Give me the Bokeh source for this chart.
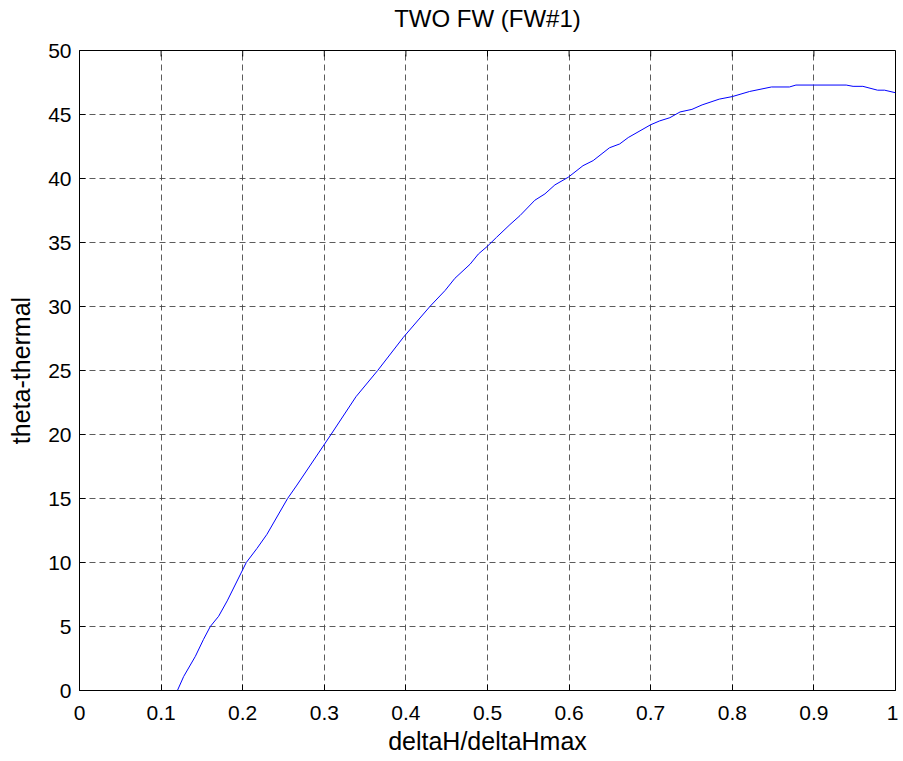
from bokeh.plotting import figure
from bokeh.models import Range1d, FixedTicker, LinearAxis
from bokeh.embed import file_html
from bokeh.resources import INLINE

x_vals = [0.12, 0.1277, 0.142, 0.152, 0.1603, 0.1705, 0.181, 0.2044, 0.2175, 0.2297,
          0.255, 0.2665, 0.3082, 0.3388, 0.3654, 0.397, 0.4294, 0.448, 0.46, 0.4786,
          0.4888, 0.4998, 0.511, 0.5275, 0.5398, 0.558, 0.5704, 0.5826, 0.599, 0.617,
          0.6295, 0.6495, 0.662, 0.6725, 0.70, 0.711, 0.7235, 0.736, 0.7505, 0.763,
          0.784, 0.80, 0.8213, 0.848, 0.870, 0.878, 0.9396, 0.948, 0.96, 0.978,
          0.9866, 1.0]
y_vals = [0.0, 1.1, 2.67, 4.0, 5.0, 5.8, 7.0, 10.0, 11.1, 12.2,
          15.0, 16.05, 20.0, 22.95, 25.0, 27.6, 30.0, 31.25, 32.2, 33.3,
          34.1, 34.7, 35.4, 36.4, 37.1, 38.3, 38.8, 39.5, 40.1, 41.0,
          41.4, 42.4, 42.7, 43.2, 44.2, 44.5, 44.75, 45.2, 45.4, 45.75,
          46.2, 46.4, 46.8, 47.15, 47.15, 47.3, 47.3, 47.2, 47.2, 46.9,
          46.9, 46.7]

x_ticks = [0, 0.1, 0.2, 0.3, 0.4, 0.5, 0.6, 0.7, 0.8, 0.9, 1.0]
x_tick_labels = ["0", "0.1", "0.2", "0.3", "0.4", "0.5", "0.6", "0.7", "0.8", "0.9", "1"]
y_ticks = [0, 5, 10, 15, 20, 25, 30, 35, 40, 45, 50]

title_text = "TWO FW (FW#1)"
x_label = "deltaH/deltaHmax"
y_label = "theta-thermal"

FONT = "Liberation Sans"
X0, X1 = 0, 1
Y0, Y1 = 0, 50

FRAME_W = 816
FRAME_H = 643
BL, BR, BT, BB = 79, 3, 50, 64

p = figure(width=BL + FRAME_W + BR, height=BT + FRAME_H + BB,
           output_backend="svg", toolbar_location=None,
           x_range=Range1d(X0, X1), y_range=Range1d(Y0, Y1),
           min_border_left=BL, min_border_right=BR, min_border_top=BT,
           min_border_bottom=BB)

p.line(x_vals, y_vals, line_color="#0000ff", line_width=1)

p.outline_line_color = "black"
p.outline_line_width = 1
p.outline_line_alpha = 1
p.background_fill_color = "white"
p.border_fill_color = "white"

xa = p.below[0]
ya = p.left[0]
for ax in [xa, ya]:
    ax.major_tick_in = 6
    ax.major_tick_out = 0
    ax.minor_tick_in = 0
    ax.minor_tick_out = 0
    ax.axis_line_color = "black"
    ax.major_tick_line_color = "black"
    ax.major_label_text_font = FONT
    ax.major_label_text_font_size = "21px"
    ax.major_label_text_color = "black"
    ax.axis_label_text_font = FONT
    ax.axis_label_text_font_size = "25px"
    ax.axis_label_text_font_style = "normal"
    ax.axis_label_text_color = "black"

xa.ticker = FixedTicker(ticks=x_ticks)
xa.major_label_overrides = {t: l for t, l in zip(x_ticks, x_tick_labels)}
xa.major_label_standoff = 15
xa.axis_label = x_label
xa.axis_label_standoff = 4

ya.ticker = FixedTicker(ticks=y_ticks)
ya.major_label_standoff = 8
ya.axis_label = y_label
ya.axis_label_standoff = 10

# title: drawn as the label of a tick-less axis above the frame
title_axis = LinearAxis(ticker=FixedTicker(ticks=[]), axis_line_color=None,
                        major_tick_in=0, major_tick_out=0, minor_tick_in=0, minor_tick_out=0,
                        major_label_standoff=0, axis_label=title_text,
                        axis_label_standoff=19, axis_label_text_font=FONT,
                        axis_label_text_font_size="24px", axis_label_text_font_style="normal",
                        axis_label_text_color="black")
p.add_layout(title_axis, "above")

# mirrored inward ticks on top and right edges (length ~6 px)
tick_dy = 6 * (Y1 - Y0) / FRAME_H
tick_dx = 6 * (X1 - X0) / FRAME_W
p.segment(x0=x_ticks, y0=[Y1] * len(x_ticks), x1=x_ticks, y1=[Y1 - tick_dy] * len(x_ticks),
          line_color="black", line_width=1)
p.segment(x0=[X1] * len(y_ticks), y0=y_ticks, x1=[X1 - tick_dx] * len(y_ticks), y1=y_ticks,
          line_color="black", line_width=1)

p.xgrid.ticker = FixedTicker(ticks=x_ticks)
p.ygrid.ticker = FixedTicker(ticks=y_ticks)
for g in [p.xgrid[0], p.ygrid[0]]:
    g.grid_line_color = "#404040"
    g.grid_line_alpha = 0.85
    g.grid_line_width = 1
    g.grid_line_dash = "6 4"

open("out.html", "w").write(file_html(p, INLINE))
